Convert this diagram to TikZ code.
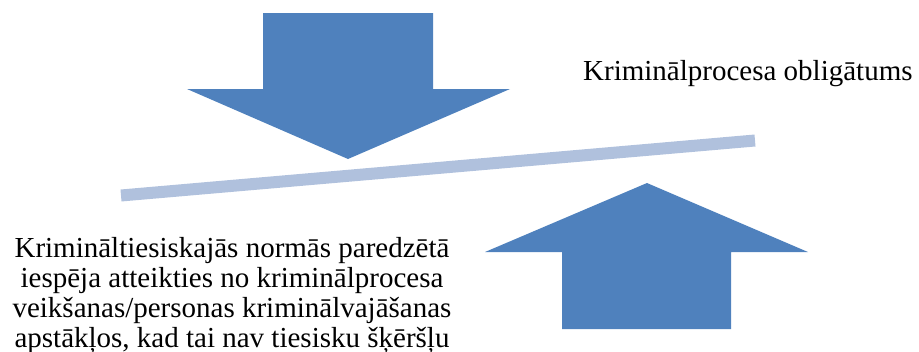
\documentclass[tikz,border=0pt]{standalone}
\usepackage{fontspec}
\setmainfont{Liberation Serif}
\definecolor{arrowblue}{HTML}{4F81BD}
\definecolor{barblue}{HTML}{B0C1DD}
\begin{document}
\begin{tikzpicture}[x=1pt,y=-1pt,
  bigarrow/.style={fill=arrowblue,draw=none},
  bar/.style={draw=barblue,line width=12pt,line cap=butt},
  label/.style={inner sep=0pt,align=center,font=\fontsize{29}{30}\selectfont}]
\useasboundingbox (0,0) rectangle (919,351);
% down arrow
\fill[bigarrow] (263,13) -- (433,13) -- (433,89) -- (510,89) -- (348,159) -- (187,89) -- (263,89) -- cycle;
% up arrow
\fill[bigarrow] (647,183) -- (808,252) -- (731,252) -- (731,329) -- (562,329) -- (562,252) -- (485,252) -- cycle;
% bar
\coordinate (barL) at (121,195.5);
\coordinate (barR) at (755,140.5);
\draw[bar] (barL) -- (barR);
% labels
\node[label,anchor=base west] (top) at (583,80) {Kriminālprocesa obligātums};
\node[label,anchor=north] (bottom) at (232,237.5) {Krimināltiesiskajās normās paredzētā\\iespēja atteikties no kriminālprocesa\\veikšanas/personas kriminālvajāšanas\\apstākļos, kad tai nav tiesisku šķēršļu};
\end{tikzpicture}
\end{document}
